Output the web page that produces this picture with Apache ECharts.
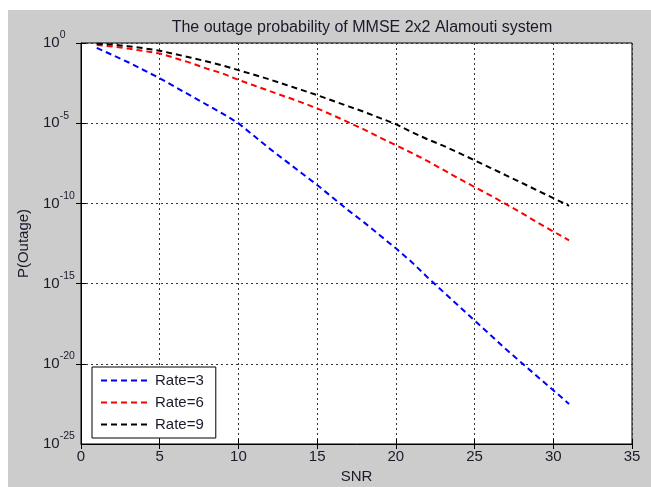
<!DOCTYPE html>
<html>
<head>
<meta charset="utf-8">
<script src="https://cdn.jsdelivr.net/npm/echarts@6/dist/echarts.min.js"></script>
<style>
html,body{margin:0;padding:0;background:#ffffff;}
#main{width:651px;height:487px;}
</style>
</head>
<body>
<div id="main"></div>
<script>
// SNR values (x)
var snr = [1,2,3,4,5,6,7,8,9,10,11,12,13,14,15,16,17,18,19,20,21,22,23,24,25,26,27,28,29,30,31];
// Outage probabilities
var rate3 = [5.01e-1,1.78e-1,6.31e-2,2.00e-2,6.31e-3,1.78e-3,5.01e-4,1.41e-4,3.98e-5,1.00e-5,
  1.58e-6,2.51e-7,4.47e-8,7.94e-9,1.41e-9,2.24e-10,3.55e-11,6.31e-12,1.00e-12,1.58e-13,
  2.24e-14,2.51e-15,3.16e-16,3.98e-17,5.01e-18,6.31e-19,7.94e-20,1.12e-20,1.58e-21,2.24e-22,3.16e-23];
var rate6 = [7.59e-1,6.03e-1,4.47e-1,3.16e-1,2.24e-1,1.12e-1,5.62e-2,2.51e-2,1.26e-2,5.01e-3,
  2.24e-3,1.00e-3,4.47e-4,2.00e-4,8.32e-5,3.16e-5,1.12e-5,3.98e-6,1.26e-6,4.27e-7,
  1.41e-7,4.47e-8,1.26e-8,3.55e-9,1.05e-9,3.16e-10,8.91e-11,2.51e-11,6.31e-12,1.78e-12,5.01e-13];
var rate9 = [8.91e-1,7.94e-1,6.31e-1,4.68e-1,3.31e-1,2.00e-1,1.20e-1,7.08e-2,3.98e-2,2.04e-2,
  1.05e-2,5.25e-3,2.51e-3,1.20e-3,5.62e-4,2.51e-4,1.12e-4,5.01e-5,2.09e-5,8.71e-6,
  2.82e-6,1.00e-6,3.98e-7,1.41e-7,4.90e-8,1.66e-8,5.62e-9,1.91e-9,6.31e-10,2.14e-10,7.08e-11];
var seriesNames = ['Rate=3','Rate=6','Rate=9'];
var seriesColors = ['#0000ff','#ff0000','#000000'];
var yExponents = [0,-5,-10,-15,-20,-25];
var yMin = 1e-25;
var titleText = 'The outage probability of MMSE 2x2 Alamouti system';

function pairs(ys){ return snr.map(function(x,i){ return [x, ys[i]]; }); }
var font = '"Liberation Sans", Arial, sans-serif';
var txt = '#1a1a2a';
var gridLine = {show:true, lineStyle:{color:'#333', width:1, type:[2,3]}};
var tick = {show:true, inside:true, length:5, lineStyle:{color:'#000'}};
var richStyles = {
  b:{fontFamily:font, fontSize:15, color:txt, lineHeight:26},
  s:{fontFamily:font, fontSize:10.5, color:txt, lineHeight:11, verticalAlign:'top'}
};
function powLabel(e){ return '{b|10}{s|' + e + '}'; }

var chart = echarts.init(document.getElementById('main'));
var dataSets = [rate3, rate6, rate9];
chart.setOption({
  animation:false,
  backgroundColor:'#ffffff',
  graphic:[{id:'bg', type:'rect', z:-10, shape:{x:8,y:10,width:643,height:477}, style:{fill:'#cccccc'}}],
  title:{text:titleText, left:357, textAlign:'center', top:15,
    textStyle:{fontFamily:font, fontSize:16, fontWeight:'normal', color:txt}},
  grid:{left:81, right:19, top:43, bottom:43, show:true, backgroundColor:'#ffffff', borderColor:'#000', borderWidth:1,
    containLabel:false, outerBoundsMode:'none'},
  legend:{
    data:seriesNames, orient:'vertical', left:92, top:367,
    backgroundColor:'#ffffff', borderColor:'#000', borderWidth:1,
    padding:[6,12,6,8], itemWidth:49, itemHeight:14, itemGap:7,
    itemStyle:{opacity:0, borderWidth:0},
    textStyle:{fontFamily:font, fontSize:15, color:txt}
  },
  xAxis:[{
    type:'value', min:0, max:35, interval:5,
    name:'SNR', nameLocation:'middle', nameGap:19,
    nameTextStyle:{fontFamily:font, fontSize:15, color:txt},
    axisLine:{lineStyle:{color:'#000'}},
    axisTick:tick,
    axisLabel:{fontFamily:font, fontSize:15, color:txt, margin:5, showMinLabel:true, showMaxLabel:true},
    splitLine:gridLine
  },{
    type:'value', min:0, max:35, interval:5, position:'top',
    axisLine:{show:false}, axisTick:tick, axisLabel:{show:false}, splitLine:{show:false}
  }],
  yAxis:[{
    type:'log', logBase:10, min:yMin, max:1, interval:5,
    name:'P(Outage)', nameLocation:'middle', nameGap:50, nameMoveOverlap:false,
    nameTextStyle:{fontFamily:font, fontSize:15, color:txt},
    axisLine:{show:true, lineStyle:{color:'#000'}},
    axisTick:tick,
    axisLabel:{margin:38, align:'left', color:txt, showMaxLabel:true, hideOverlap:false,
      formatter:function(v){
        if (!(v > 0)) return '';   // the bottom tick comes back rounded to 0; its label is added below
        var e = Math.round(Math.log(v)/Math.LN10);
        if (yExponents.indexOf(e) < 0) return '';
        return powLabel(e);
      },
      rich:richStyles
    },
    splitLine:gridLine
  },{
    type:'log', logBase:10, min:yMin, max:1, interval:5, position:'right',
    axisLine:{show:false}, axisTick:tick, axisLabel:{show:false}, splitLine:{show:false}
  }],
  series:dataSets.map(function(d,i){
    return {
      name:seriesNames[i], type:'line', data:pairs(d), showSymbol:false, symbol:'none',
      xAxisIndex:0, yAxisIndex:0,
      lineStyle:{color:seriesColors[i], width:2, type:[6,4]},
      itemStyle:{color:seriesColors[i]}
    };
  })
});

// Bottom y label (10^-25), placed through the axis scale
var yBottom = chart.convertToPixel({yAxisIndex:0}, yMin);
var xAxisPx = chart.convertToPixel({xAxisIndex:0}, 0);
if (isFinite(yBottom) && isFinite(xAxisPx)) {
  chart.setOption({
    graphic:[{id:'yMinLabel', type:'text', x:xAxisPx - 38, y:yBottom, z:10,
      style:{text:powLabel(yExponents[yExponents.length-1]), rich:richStyles,
        align:'left', verticalAlign:'middle', fill:txt}}]
  });
}
</script>
</body>
</html>
